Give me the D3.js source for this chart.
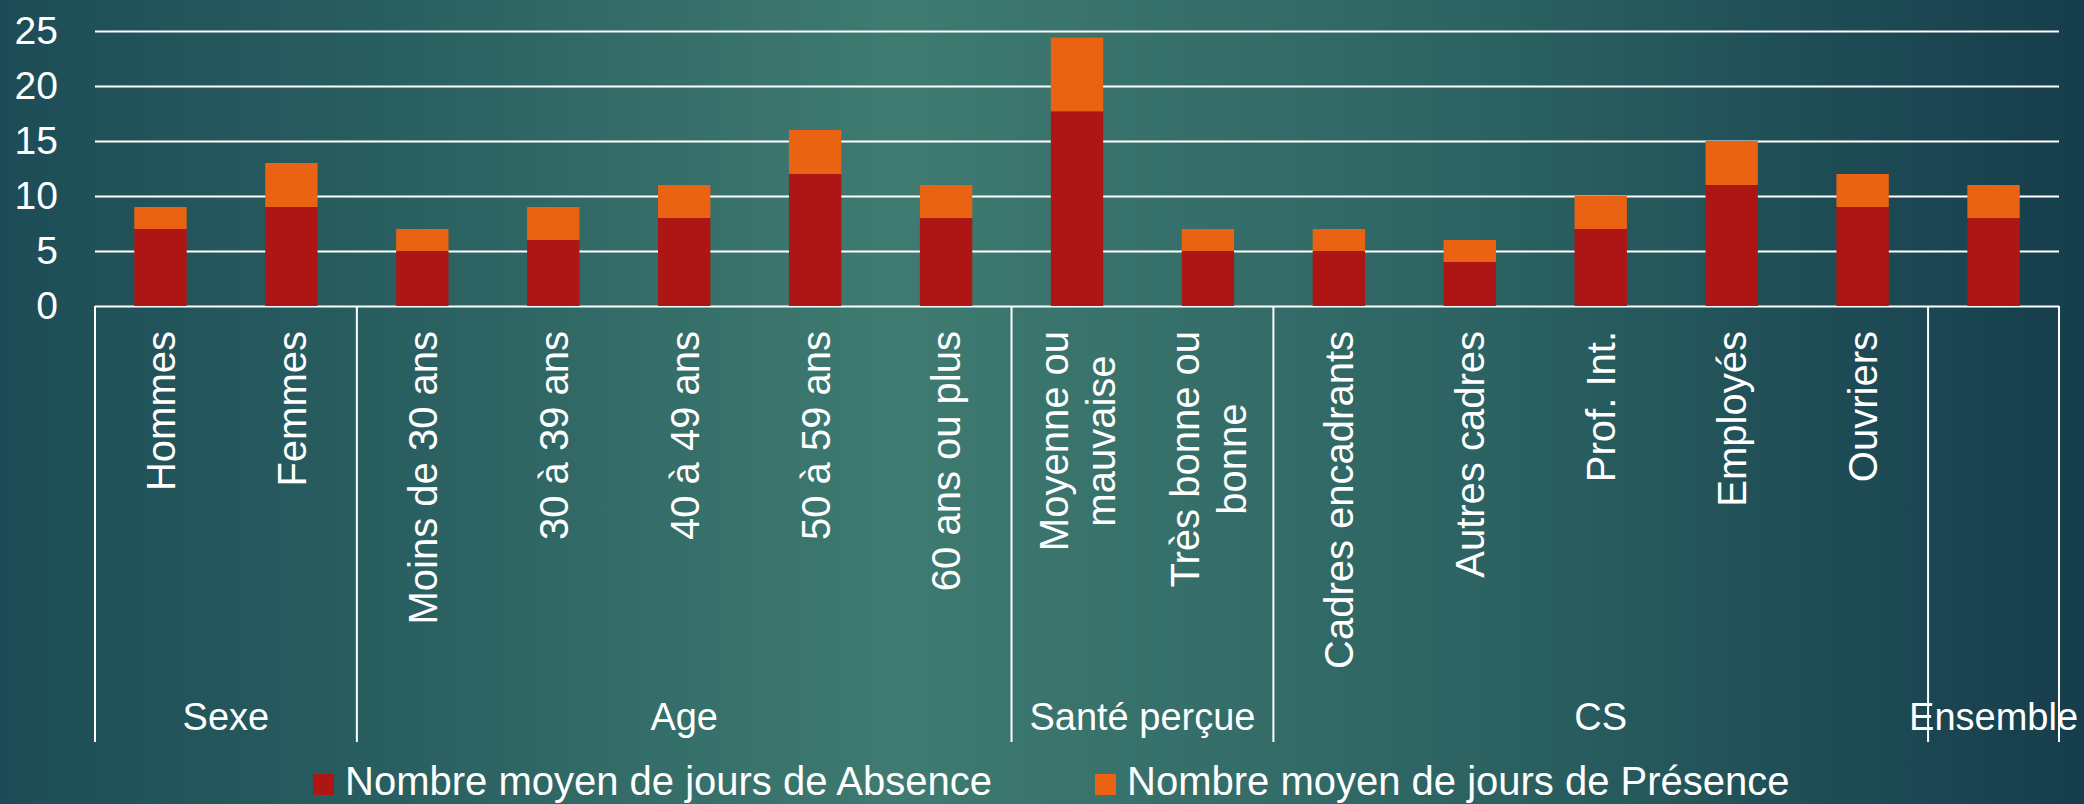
<!DOCTYPE html>
<html>
<head>
<meta charset="utf-8">
<script src="https://cdn.jsdelivr.net/npm/d3@7"></script>
<style>
  html, body { margin: 0; padding: 0; background: #1f4f58; }
  svg { display: block; }
  text { font-family: "Liberation Sans", Arial, sans-serif; fill: #fff; }
</style>
</head>
<body>
<svg id="chart" width="2084" height="804"></svg>
<script>
// categories, "\n" marks a line break in the rotated label
// (the last one has no inner label, only its group name)
const categories = [
  "Hommes", "Femmes",
  "Moins de 30 ans", "30 à 39 ans", "40 à 49 ans", "50 à 59 ans", "60 ans ou plus",
  "Moyenne ou\nmauvaise", "Très bonne ou\nbonne",
  "Cadres encadrants", "Autres cadres", "Prof. Int.", "Employés", "Ouvriers",
  ""
]
const groupNames = ["Sexe", "Age", "Santé perçue", "CS", "Ensemble"]
const groupSizes = [2, 5, 2, 5, 1]

const absence  = [7, 9, 5, 6, 8, 12, 8, 17.7, 5, 5, 4, 7, 11, 9, 8]
const presence = [2, 4, 2, 3, 3, 4, 3, 6.7, 2, 2, 2, 3, 4, 3, 3]

const seriesNames = ["Nombre moyen de jours de Absence", "Nombre moyen de jours de Présence"]
const seriesColors = ["#ae1515", "#e96312"]
const yTicks = [0, 5, 10, 15, 20, 25]

const svg = d3.select('#chart')
const W = 2084, H = 804
const plotLeft = 95, plotRight = 2059, plotTop = 31, plotBottom = 306

// background
const defs = svg.append('defs')
const grad = defs.append('linearGradient').attr('id', 'bg')
  .attr('x1', 0).attr('y1', 0).attr('x2', 1).attr('y2', 0)
grad.selectAll('stop')
  .data([[0, '#1d4c56'], [0.2, '#2a6061'], [0.43, '#3f7b71'], [0.7, '#2d6463'], [0.88, '#1e4c55'], [1, '#163d4c']])
  .enter().append('stop')
  .attr('offset', d => d[0]).attr('stop-color', d => d[1])
svg.append('rect').attr('width', W).attr('height', H).attr('fill', 'url(#bg)')

const x = d3.scaleBand().domain(d3.range(categories.length))
  .range([plotLeft, plotRight]).paddingInner(0.6).paddingOuter(0.3)
const y = d3.scaleLinear().domain([0, 25]).range([plotBottom, plotTop])

// gridlines + y labels
const yAxis = svg.append('g')
  .attr('transform', `translate(${plotLeft},0)`)
  .call(d3.axisLeft(y).tickValues(yTicks).tickSize(-(plotRight - plotLeft)).tickPadding(37))
yAxis.select('.domain').remove()
yAxis.selectAll('line').attr('stroke', '#fff').attr('stroke-width', 2)
yAxis.selectAll('text').attr('font-size', 39).attr('fill', '#fff')
  .style('font-family', '"Liberation Sans", Arial, sans-serif')

// stacked bars
const rows = categories.map((c, i) => ({ i, absence: absence[i], presence: presence[i] }))
const stacked = d3.stack().keys(['absence', 'presence'])(rows)
svg.append('g').selectAll('g')
  .data(stacked)
  .enter().append('g')
  .attr('fill', (d, k) => seriesColors[k])
  .selectAll('rect')
  .data(d => d)
  .enter().append('rect')
  .attr('x', d => x(d.data.i))
  .attr('y', d => y(d[1]))
  .attr('width', x.bandwidth())
  .attr('height', d => y(d[0]) - y(d[1]))

// category box: vertical separators at group edges
const step = x.step()
const x0 = x(0) - x.paddingOuter() * step
let acc = 0
const edges = [0]
groupSizes.forEach(n => { acc += n; edges.push(acc) })
const edgeX = k => x0 + k * step

// group labels (drawn under the separators, "Ensemble" overflows its box)
svg.append('g').selectAll('text')
  .data(groupNames)
  .enter().append('text')
  .attr('x', (d, k) => (edgeX(edges[k]) + edgeX(edges[k + 1])) / 2)
  .attr('y', 730)
  .attr('text-anchor', 'middle')
  .attr('font-size', 38)
  .text(d => d)

svg.append('g').selectAll('line')
  .data(edges)
  .enter().append('line')
  .attr('x1', edgeX).attr('x2', edgeX)
  .attr('y1', plotBottom).attr('y2', 742)
  .attr('stroke', '#fff').attr('stroke-width', 2)

// rotated category labels
const labelTop = 331
const lineGap = 47
const catG = svg.append('g').attr('font-size', 40)
categories.forEach((c, i) => {
  if (!c) return
  const lines = c.split('\n')
  const cx = x(i) + x.bandwidth() / 2
  const g = catG.append('g').attr('transform', `translate(${cx},${labelTop}) rotate(-90)`)
  const texts = lines.map((ln, k) => g.append('text')
    .attr('text-anchor', 'middle')
    .attr('y', (k - (lines.length - 1) / 2) * lineGap)
    .attr('dy', '0.36em')
    .text(ln))
  const maxLen = d3.max(texts, t => t.node().getComputedTextLength())
  texts.forEach(t => t.attr('x', -maxLen / 2))
})

// legend
const legendX = [313, 1095]
const leg = svg.append('g').selectAll('g')
  .data(seriesNames)
  .enter().append('g')
  .attr('transform', (d, k) => `translate(${legendX[k]},774)`)
leg.append('rect').attr('width', 21).attr('height', 21).attr('fill', (d, k) => seriesColors[k])
leg.append('text').attr('x', 32).attr('y', 21).attr('font-size', 40).text(d => d)
</script>
</body>
</html>
